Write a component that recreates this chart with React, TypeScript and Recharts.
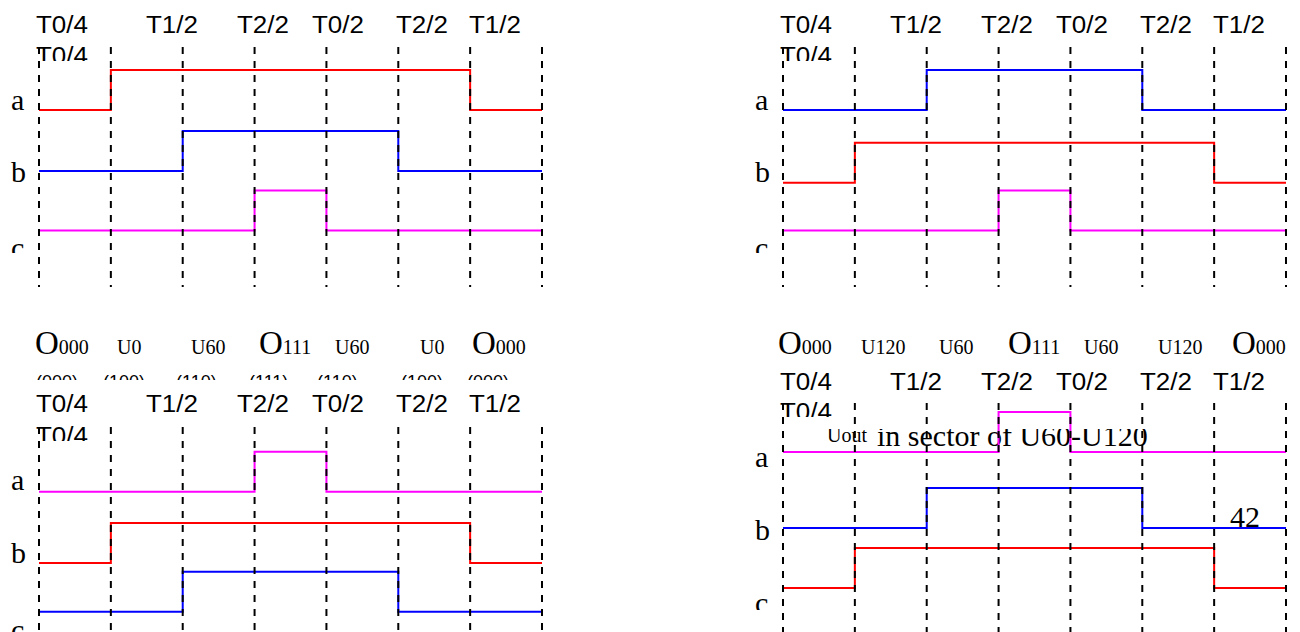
import React from "react";
import { LineChart, Line, XAxis, YAxis, ReferenceLine, Customized } from "recharts";

const W = 1300;
const H = 632;
const AMP = 40;

// switching instants: edges of the 7 intervals of one PWM period
const instants = [0, 1, 2, 3, 4, 5, 6, 7];

// phase states per interval (1 = upper switch on)
const tlA = [0, 1, 1, 1, 1, 1, 0];
const tlB = [0, 0, 1, 1, 1, 0, 0];
const tlC = [0, 0, 0, 1, 0, 0, 0];
const trA = [0, 0, 1, 1, 1, 0, 0];
const trB = [0, 1, 1, 1, 1, 1, 0];
const trC = [0, 0, 0, 1, 0, 0, 0];
const blA = [0, 0, 0, 1, 0, 0, 0];
const blB = [0, 1, 1, 1, 1, 1, 0];
const blC = [0, 0, 1, 1, 1, 0, 0];
const brA = [0, 0, 0, 1, 0, 0, 0];
const brB = [0, 0, 1, 1, 1, 0, 0];
const brC = [0, 1, 1, 1, 1, 1, 0];

const timeLabels = ["T0/4", "T1/2", "T2/2", "T0/2", "T2/2", "T1/2"];
const vectorsLeft = ["O000", "U0", "U60", "O111", "U60", "U0", "O000"];
const vectorsRight = ["O000", "U120", "U60", "O111", "U60", "U120", "O000"];
const statesLeft = ["(000)", "(100)", "(110)", "(111)", "(110)", "(100)", "(000)"];
const rowNames = ["a", "b", "c"];

const RED = "#ff0000";
const BLUE = "#0000ff";
const MAGENTA = "#ff00ff";
const SANS = "'Liberation Sans', Arial, sans-serif";
const SERIF = "'Liberation Serif', 'Times New Roman', serif";

interface Panel {
  id: string;
  levels: number[][];
  colors: string[];
  x0: number;
  x7: number;
  lows: number[];
  dashTop: number;
  dashBottom: number;
  timeY: number;
  repeatY: number;
  repeatClip: number;
  nameX: number;
  nameY: number[];
  nameClip: number;
  vectors?: string[];
  vectorX?: number[];
  vectorY?: number;
  stateX?: number[];
  stateY?: number;
  stateClip?: number;
  extra?: boolean;
}

const timeOffsets = [-3, 107, 198, 273, 357, 430];

const panels: Panel[] = [
  {
    id: "tl", levels: [tlA, tlB, tlC], colors: [RED, BLUE, MAGENTA],
    x0: 39, x7: 542, lows: [110, 171, 230.5], dashTop: 47, dashBottom: 287,
    timeY: 33, repeatY: 64, repeatClip: 61,
    nameX: 11, nameY: [110, 182, 258], nameClip: 253,
  },
  {
    id: "tr", levels: [trA, trB, trC], colors: [BLUE, RED, MAGENTA],
    x0: 783, x7: 1286, lows: [110, 182.7, 230.5], dashTop: 47, dashBottom: 287,
    timeY: 33, repeatY: 64, repeatClip: 61,
    nameX: 755, nameY: [110, 182, 258], nameClip: 253,
  },
  {
    id: "bl", levels: [blA, blB, blC], colors: [MAGENTA, RED, BLUE],
    x0: 39, x7: 542, lows: [491.7, 563, 611.7], dashTop: 427, dashBottom: 632,
    timeY: 412, repeatY: 444, repeatClip: 441,
    nameX: 11, nameY: [490, 563, 640], nameClip: 632,
    vectors: vectorsLeft, vectorX: [35, 117, 191, 259, 335, 420, 472], vectorY: 354,
    stateX: [36, 103, 176, 249, 317, 401, 467], stateY: 388, stateClip: 380,
  },
  {
    id: "br", levels: [brA, brB, brC], colors: [MAGENTA, BLUE, RED],
    x0: 783, x7: 1286, lows: [452, 528, 588], dashTop: 403, dashBottom: 632,
    timeY: 390, repeatY: 420, repeatClip: 417,
    nameX: 755, nameY: [467, 540, 613], nameClip: 610,
    vectors: vectorsRight, vectorX: [778, 861, 939, 1008, 1084, 1158, 1232], vectorY: 354,
    extra: true,
  },
];

const VectorLabel = ({ label, x, y }: { label: string; x: number; y: number }) => {
  if (label.startsWith("O")) {
    return (
      <text x={x} y={y} fontFamily={SERIF} fill="#000">
        <tspan fontSize={33}>O</tspan>
        <tspan fontSize={20}>{label.slice(1)}</tspan>
      </text>
    );
  }
  return (
    <text x={x} y={y} fontFamily={SERIF} fontSize={20} fill="#000">
      {label}
    </text>
  );
};

const PanelText = ({ p }: { p: Panel }) => (
  <g>
    <defs>
      <clipPath id={`${p.id}-rep`}>
        <rect x={p.x0 - 20} y={p.repeatClip - 30} width={100} height={30} />
      </clipPath>
      <clipPath id={`${p.id}-name`}>
        <rect x={p.nameX - 10} y={0} width={50} height={p.nameClip} />
      </clipPath>
      {p.stateClip !== undefined && (
        <clipPath id={`${p.id}-state`}>
          <rect x={0} y={p.stateClip - 20} width={W} height={20} />
        </clipPath>
      )}
      {p.extra && (
        <clipPath id={`${p.id}-note`}>
          <rect x={p.x0} y={429} width={500} height={40} />
        </clipPath>
      )}
    </defs>
    {p.vectors &&
      p.vectors.map((v, i) => (
        <VectorLabel key={`v${i}`} label={v} x={p.vectorX![i]} y={p.vectorY!} />
      ))}
    {p.stateX && (
      <g clipPath={`url(#${p.id}-state)`}>
        {statesLeft.map((s, i) => (
          <text key={`s${i}`} x={p.stateX![i]} y={p.stateY} fontFamily={SANS} fontSize={18} fill="#000">
            {s}
          </text>
        ))}
      </g>
    )}
    {timeLabels.map((t, i) => (
      <text
        key={`t${i}`}
        x={p.x0 + timeOffsets[i]}
        y={p.timeY}
        fontFamily={SANS}
        fontSize={23}
        textLength={52}
        lengthAdjust="spacingAndGlyphs"
        fill="#000"
      >
        {t}
      </text>
    ))}
    <text
      x={p.x0 + timeOffsets[0]}
      y={p.repeatY}
      fontFamily={SANS}
      fontSize={23}
      textLength={52}
      lengthAdjust="spacingAndGlyphs"
      fill="#000"
      clipPath={`url(#${p.id}-rep)`}
    >
      {timeLabels[0]}
    </text>
    <g clipPath={`url(#${p.id}-name)`}>
      {rowNames.map((n, i) => (
        <text key={`n${i}`} x={p.nameX} y={p.nameY[i]} fontFamily={SERIF} fontSize={30} fill="#000">
          {n}
        </text>
      ))}
    </g>
    {p.extra && (
      <g>
        <g clipPath={`url(#${p.id}-note)`}>
          <text x={827} y={442} fontFamily={SERIF} fontSize={20} fill="#000">Uout</text>
          <text x={877} y={446} fontFamily={SERIF} fontSize={30} fill="#000">
            in sector of U60-U120
          </text>
        </g>
        <text x={1230} y={527} fontFamily={SERIF} fontSize={30} fill="#000">42</text>
      </g>
    )}
  </g>
);

const PanelChart = ({ p }: { p: Panel }) => {
  const data = instants.map((t, i) => {
    const k = Math.min(i, 6);
    return {
      t,
      a: p.lows[0] - p.levels[0][k] * AMP,
      b: p.lows[1] - p.levels[1][k] * AMP,
      c: p.lows[2] - p.levels[2][k] * AMP,
    };
  });
  return (
    <div style={{ position: "absolute", left: 0, top: 0 }}>
      <LineChart
        width={W}
        height={H}
        data={data}
        margin={{ top: 0, right: W - p.x7, bottom: 0, left: p.x0 }}
      >
        <XAxis dataKey="t" type="number" domain={[0, 7]} hide />
        <YAxis type="number" domain={[0, H]} reversed hide allowDataOverflow />
        {["a", "b", "c"].map((k, i) => (
          <Line
            key={k}
            type="stepAfter"
            dataKey={k}
            stroke={p.colors[i]}
            strokeWidth={2}
            dot={false}
            isAnimationActive={false}
          />
        ))}
        {instants.map((t) => (
          <ReferenceLine
            key={`d${t}`}
            segment={[
              { x: t, y: p.dashTop },
              { x: t, y: p.dashBottom },
            ]}
            stroke="#000"
            strokeWidth={2}
            strokeDasharray="7 7"
          />
        ))}
        <Customized component={() => <PanelText p={p} />} />
      </LineChart>
    </div>
  );
}

export default function App() {
  return (
    <div
      style={{
        position: "absolute",
        left: 0,
        top: 0,
        width: W,
        height: H,
        overflow: "hidden",
        background: "#fff",
      }}
    >
      {panels.map((p) => (
        <PanelChart key={p.id} p={p} />
      ))}
    </div>
  );
}
